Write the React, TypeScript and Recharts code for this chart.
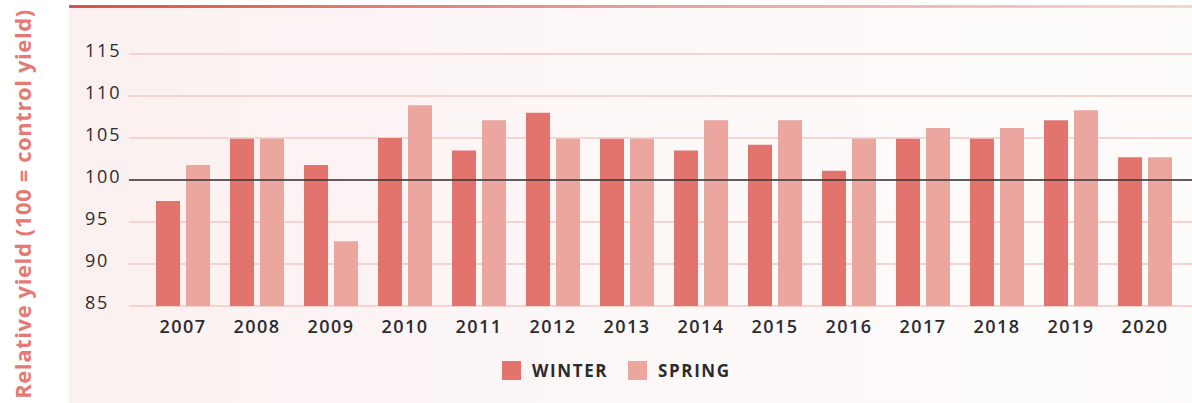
import { BarChart, Bar, XAxis, YAxis, CartesianGrid, ReferenceLine } from "recharts";

const years = ["2007", "2008", "2009", "2010", "2011", "2012", "2013", "2014", "2015", "2016", "2017", "2018", "2019", "2020"];
const winter = [97.5, 104.9, 101.8, 105.0, 103.5, 108.0, 104.9, 103.5, 104.2, 101.1, 104.9, 104.9, 107.1, 102.7];
const spring = [101.8, 104.9, 92.7, 108.9, 107.1, 104.9, 104.9, 107.1, 107.1, 104.9, 106.2, 106.2, 108.3, 102.7];
const yTicks = [85, 90, 95, 100, 105, 110, 115];

const data = years.map((year, i) => ({ year, winter: winter[i], spring: spring[i] }));

const FONT = "'Open Sans', 'Noto Sans', sans-serif";
const WINTER_COLOR = "#e2736d";
const SPRING_COLOR = "#eba69f";

const YTick = (props: any) => (
  <text x={85} y={props.y} dy={3} textAnchor="start" fill="#2b2b2e" fontSize={18} fontFamily={FONT} letterSpacing={1.8}>
    {props.payload.value}
  </text>
);

const XTick = (props: any) => (
  <text x={props.x} y={props.y} dy={19} textAnchor="middle" fill="#2b2b2e" fontSize={18} fontWeight={600} fontFamily={FONT} letterSpacing={1.5}>
    {props.payload.value}
  </text>
);

export default function App() {
  return (
    <div style={{ position: "absolute", left: 0, top: 0, width: 1192, height: 403, background: "#ffffff", overflow: "hidden" }}>
      {/* panel background */}
      <div
        style={{
          position: "absolute",
          left: 69,
          top: 5,
          width: 1123,
          height: 398,
          background: "linear-gradient(to right, #fbf0f0, #fdf9f9 60%, #fefbfb)",
        }}
      />
      <div
        style={{
          position: "absolute",
          left: 69,
          top: 5,
          width: 1123,
          height: 3,
          background: "linear-gradient(to right, #d4524d, #e6a09c 50%, #f3d6d5)",
        }}
      />
      {/* y axis title */}
      <div
        style={{
          position: "absolute",
          left: 22,
          top: 204,
          transform: "translate(-50%, -50%) rotate(-90deg)",
          whiteSpace: "nowrap",
          fontFamily: FONT,
          fontSize: 22,
          fontWeight: 700,
          color: "#e57a74",
          letterSpacing: 0.6,
        }}
      >
        Relative yield (100 = control yield)
      </div>
      <div style={{ position: "absolute", left: 0, top: 0 }}>
        <BarChart
          width={1192}
          height={403}
          data={data}
          margin={{ top: 54, right: 0, bottom: 0, left: 69 }}
          barSize={24}
          barGap={6}
        >
          <CartesianGrid horizontal vertical={false} stroke="#f6d3cf" strokeWidth={2} />
          <XAxis
            dataKey="year"
            axisLine={false}
            tickLine={false}
            tick={<XTick />}
            padding={{ left: 17, right: 10 }}
            interval={0}
            height={97}
          />
          <YAxis
            domain={[85, 115]}
            ticks={yTicks}
            axisLine={false}
            tickLine={false}
            tick={<YTick />}
            width={60}
            interval={0}
          />
          <ReferenceLine y={100} stroke="#333336" strokeWidth={1.5} />
          <Bar dataKey="winter" name="WINTER" fill={WINTER_COLOR} isAnimationActive={false} />
          <Bar dataKey="spring" name="SPRING" fill={SPRING_COLOR} isAnimationActive={false} />
        </BarChart>
      </div>
      {/* legend */}
      <div
        style={{
          position: "absolute",
          left: 502,
          top: 361,
          height: 19,
          display: "flex",
          alignItems: "center",
          fontFamily: FONT,
          fontSize: 17,
          fontWeight: 700,
          color: "#2b2b2e",
          letterSpacing: 1.6,
        }}
      >
        <span style={{ width: 19, height: 19, background: WINTER_COLOR, display: "inline-block", marginRight: 11 }} />
        <span style={{ marginRight: 20 }}>WINTER</span>
        <span style={{ width: 19, height: 19, background: SPRING_COLOR, display: "inline-block", marginRight: 11 }} />
        <span>SPRING</span>
      </div>
    </div>
  );
}
